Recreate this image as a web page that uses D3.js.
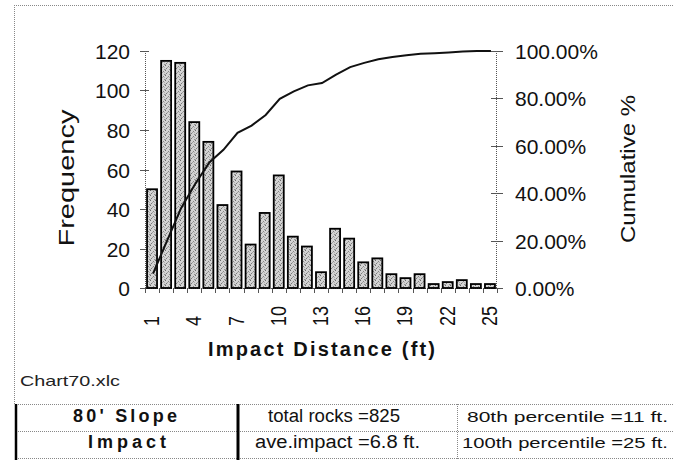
<!DOCTYPE html>
<html><head><meta charset="utf-8">
<script src="https://cdn.jsdelivr.net/npm/d3@7"></script>
<style>
html,body{margin:0;padding:0;background:#fff;}
svg{display:block;font-family:"Liberation Sans",Arial,sans-serif;}
</style></head>
<body><svg id="c" width="674" height="460"></svg>
<script>
const categories = d3.range(1, 26).map(String);
const frequency = [50,115,114,84,74,42,59,22,38,57,26,21,8,30,25,13,15,7,5,7,2,3,4,2,2];
const cumulativePct = [6.1,20,33.8,44,53,58.3,65.5,68.5,73,79.8,83,85.5,86.5,90,93.2,95,96.5,97.5,98.2,98.8,99.1,99.4,99.8,100,100];
const leftTicks = [0,20,40,60,80,100,120];
const rightTicks = [0,20,40,60,80,100];
const xTickLabels = ["1","4","7","10","13","16","19","22","25"];
const tableRows = [["80' Slope","total rocks =825","80th percentile =11 ft."],["Impact","ave.impact =6.8 ft.","100th percentile =25 ft."]];

const svg = d3.select("#c");
const defs = svg.append("defs");
const pat = defs.append("pattern").attr("id","stip").attr("width",5).attr("height",5).attr("patternUnits","userSpaceOnUse");
pat.append("rect").attr("width",5).attr("height",5).attr("fill","#d4d4d4");
[[0,0,"#6a6a6a"],[3,1,"#858585"],[1,3,"#7a7a7a"],[4,4,"#909090"],[2,2,"#a0a0a0"],[4,2,"#b0b0b0"],[0,4,"#a8a8a8"]].forEach(p=>{
  pat.append("rect").attr("x",p[0]).attr("y",p[1]).attr("width",1).attr("height",1).attr("fill",p[2]);
});

const x = d3.scaleBand().domain(categories).range([145,497]).paddingInner(0.29).paddingOuter(0.145);
const xb = d3.scaleBand().domain(categories).range([145,497]);
const yL = d3.scaleLinear().domain([0,120]).range([288,51]);
const yR = d3.scaleLinear().domain([0,100]).range([288,51]);

// frame
svg.append("line").attr("x1",14).attr("x2",674).attr("y1",5.5).attr("y2",5.5).attr("stroke","#888").attr("stroke-dasharray","1,1");
svg.append("line").attr("x1",14.5).attr("x2",14.5).attr("y1",5).attr("y2",404).attr("stroke","#888").attr("stroke-dasharray","1,1");

// axes lines
const axCol = "#555";
svg.append("line").attr("x1",145.5).attr("x2",145.5).attr("y1",yL(120)).attr("y2",yL(0)).attr("stroke",axCol).attr("stroke-dasharray","1,1");
svg.append("line").attr("x1",496.5).attr("x2",496.5).attr("y1",yR(100)).attr("y2",yR(0)).attr("stroke",axCol).attr("stroke-dasharray","1,1");
svg.append("line").attr("x1",145).attr("x2",497).attr("y1",288.5).attr("y2",288.5).attr("stroke",axCol).attr("stroke-dasharray","1,1");

// left ticks
const lt = svg.append("g");
leftTicks.forEach(v=>{
  const y = Math.round(yL(v))+0.5;
  lt.append("line").attr("x1",140).attr("x2",149).attr("y1",y).attr("y2",y).attr("stroke",axCol);
  lt.append("text").attr("x",130).attr("y",y+7.5).attr("text-anchor","end").attr("font-size",21).attr("fill","#111").text(v);
});
// right ticks
const rt = svg.append("g");
rightTicks.forEach(v=>{
  const y = Math.round(yR(v))+0.5;
  rt.append("line").attr("x1",491).attr("x2",503).attr("y1",y).attr("y2",y).attr("stroke",axCol);
  rt.append("text").attr("x",515).attr("y",y+7.5).attr("font-size",21).attr("fill","#111").text(d3.format(".2f")(v)+"%");
});
// x ticks at band boundaries
categories.concat(["end"]).forEach((c,i)=>{
  const xx = i<categories.length ? xb(c) : xb.range()[1];
  svg.append("line").attr("x1",Math.round(xx)+0.5).attr("x2",Math.round(xx)+0.5).attr("y1",288).attr("y2",293).attr("stroke",axCol);
});
// x tick labels
xTickLabels.forEach(l=>{
  const cx = x(l)+x.bandwidth()/2;
  svg.append("text").attr("transform",`translate(${cx+7},326) rotate(-90)`)
    .attr("font-size",22).attr("fill","#111")
    .attr("textLength", l.length*10).attr("lengthAdjust","spacingAndGlyphs").text(l);
});

// bars
svg.append("g").selectAll("rect").data(frequency).join("rect")
  .attr("x",(d,i)=>x(categories[i]))
  .attr("y",d=>yL(d))
  .attr("width",x.bandwidth())
  .attr("height",d=>yL(0)-yL(d))
  .attr("fill","url(#stip)").attr("stroke","#000").attr("stroke-width",1.8);

// cumulative line
const line = d3.line().x((d,i)=>x(categories[i])+x.bandwidth()/2+1).y(d=>yR(d));
svg.append("path").datum(cumulativePct).attr("d",line).attr("fill","none").attr("stroke","#111").attr("stroke-width",2);

// axis titles
svg.append("text").attr("transform","translate(74,178) rotate(-90)").attr("text-anchor","middle")
  .attr("font-size",22).attr("fill","#111").attr("textLength",137).attr("lengthAdjust","spacingAndGlyphs").text("Frequency");
svg.append("text").attr("transform","translate(635,169) rotate(-90)").attr("text-anchor","middle")
  .attr("font-size",21).attr("fill","#111").attr("textLength",148).attr("lengthAdjust","spacingAndGlyphs").text("Cumulative %");
svg.append("text").attr("x",208).attr("y",356).attr("font-size",20).attr("font-weight","bold").attr("fill","#111")
  .attr("textLength",227).attr("lengthAdjust","spacing").text("Impact Distance (ft)");
svg.append("text").attr("x",20).attr("y",386).attr("font-size",15).attr("fill","#222")
  .attr("textLength",100).attr("lengthAdjust","spacingAndGlyphs").text("Chart70.xlc");

// table
const tcol = "#888";
[404.5,431.5,458.5].forEach(y=>{
  svg.append("line").attr("x1",16).attr("x2",674).attr("y1",y).attr("y2",y).attr("stroke",tcol).attr("stroke-dasharray","1,1");
});
svg.append("line").attr("x1",16).attr("x2",16).attr("y1",404).attr("y2",460).attr("stroke","#000").attr("stroke-width",2.5);
svg.append("line").attr("x1",238).attr("x2",238).attr("y1",404).attr("y2",460).attr("stroke","#000").attr("stroke-width",3);
svg.append("line").attr("x1",457.5).attr("x2",457.5).attr("y1",404).attr("y2",460).attr("stroke",tcol).attr("stroke-dasharray","1,1");

const rowBase = [422,448];
const c1 = [[73,104],[88,78]];
const c2 = [[268,132],[255,165]];
const c3 = [[467,201],[462,206]];
tableRows.forEach((r,i)=>{
  svg.append("text").attr("x",c1[i][0]).attr("y",rowBase[i]).attr("font-size",18).attr("font-weight","bold").attr("fill","#111")
    .attr("textLength",c1[i][1]).attr("lengthAdjust","spacing").text(r[0]);
  svg.append("text").attr("x",c2[i][0]).attr("y",rowBase[i]).attr("font-size",18).attr("fill","#111")
    .attr("textLength",c2[i][1]).attr("lengthAdjust","spacingAndGlyphs").text(r[1]);
  svg.append("text").attr("x",c3[i][0]).attr("y",rowBase[i]).attr("font-size",15.5).attr("fill","#111")
    .attr("textLength",c3[i][1]).attr("lengthAdjust","spacingAndGlyphs").text(r[2]);
});
</script></body></html>
